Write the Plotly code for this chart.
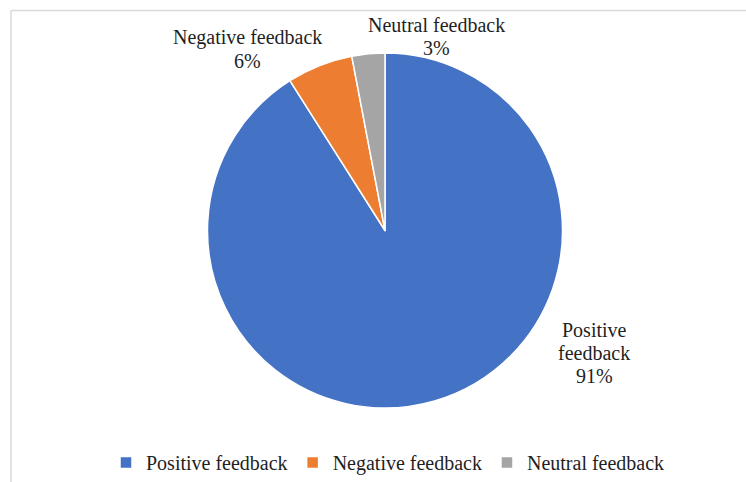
import plotly.graph_objects as go

# Feedback breakdown
categories = ["Positive feedback", "Negative feedback", "Neutral feedback"]
shares = [91, 6, 3]
slice_colors = ["#4472C4", "#ED7D31", "#A5A5A5"]

# Outside label lines for each slice (text built from the values above)
label_lines = [
    ["Positive", "feedback", f"{shares[0]}%"],
    ["Negative feedback", f"{shares[1]}%"],
    ["Neutral feedback", f"{shares[2]}%"],
]

W, H = 746, 482
FONT = "Liberation Serif"
TEXT_COLOR = "#1f1f1f"

# pie geometry in pixels
cx, cy, r = 385, 230.5, 177.5

fig = go.Figure(
    go.Pie(
        labels=categories,
        values=shares,
        sort=False,
        direction="clockwise",
        rotation=0,
        marker=dict(colors=slice_colors, line=dict(color="white", width=1.5)),
        textinfo="none",
        hoverinfo="label+percent",
        domain=dict(
            x=[(cx - r) / W, (cx + r) / W],
            y=[1 - (cy + r) / H, 1 - (cy - r) / H],
        ),
    )
)

# label anchor: (center x, baseline of first line) in pixels
label_pos = [(594, 337), (247, 45), (437, 32)]
line_step = 23
annotations = []
for lines, (lx, base) in zip(label_lines, label_pos):
    for i, line in enumerate(lines):
        by = base + i * line_step
        annotations.append(
            dict(
                text=line,
                x=lx / W,
                y=1 - (by - 7) / H,
                xref="paper",
                yref="paper",
                xanchor="center",
                yanchor="middle",
                showarrow=False,
                font=dict(family=FONT, size=20, color=TEXT_COLOR),
            )
        )

# light frame along the top and left edges
frame = "#d9d9d9"
shapes = [
    dict(type="line", xref="paper", yref="paper",
         x0=11 / W, x1=1, y0=1 - 10.5 / H, y1=1 - 10.5 / H,
         line=dict(color=frame, width=1.5)),
    dict(type="line", xref="paper", yref="paper",
         x0=11 / W, x1=11 / W, y0=0, y1=1 - 10.5 / H,
         line=dict(color=frame, width=1.5)),
]

fig.update_layout(
    width=W,
    height=H,
    margin=dict(l=0, r=0, t=0, b=0),
    paper_bgcolor="white",
    plot_bgcolor="white",
    font=dict(family=FONT, size=20, color=TEXT_COLOR),
    showlegend=True,
    legend=dict(
        orientation="h",
        x=388 / W,
        xanchor="center",
        y=0.0,
        yanchor="bottom",
        font=dict(family=FONT, size=20, color=TEXT_COLOR),
        traceorder="normal",
    ),
    annotations=annotations,
    shapes=shapes,
)

fig.write_html("out.html")
